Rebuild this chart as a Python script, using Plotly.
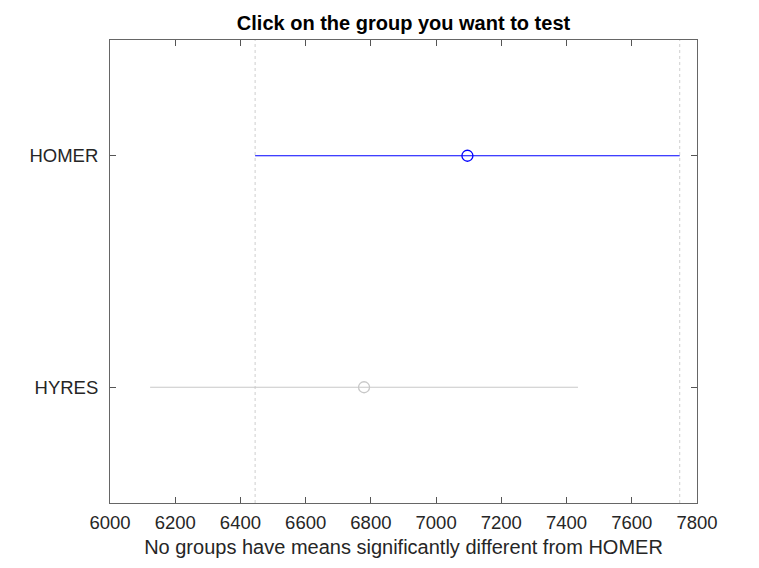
import plotly.graph_objects as go

groups = ["HYRES", "HOMER"]
group_pos = [1, 2]
means = [6779, 7096]
half_widths = [656, 651]
colors = ["#c8c8c8", "#0000ff"]
x_ticks = [6000, 6200, 6400, 6600, 6800, 7000, 7200, 7400, 7600, 7800]
selected = 1  # HOMER

FONT = "Liberation Sans, Arial, Helvetica"

fig = go.Figure()

lo = means[selected] - half_widths[selected]
hi = means[selected] + half_widths[selected]
for xv in (lo, hi):
    fig.add_shape(type="line", x0=xv, x1=xv, y0=0, y1=1, xref="x", yref="paper",
                  line=dict(color="#cfcfcf", width=1, dash="dot"), layer="below")

for g, p, m, h, c in zip(groups, group_pos, means, half_widths, colors):
    fig.add_trace(go.Scatter(
        x=[m - h, m + h], y=[p, p], mode="lines",
        line=dict(color=c, width=1.2), showlegend=False, hoverinfo="skip"))
    fig.add_trace(go.Scatter(
        x=[m], y=[p], mode="markers",
        marker=dict(symbol="circle-open", size=11, color=c, line=dict(width=1.3, color=c)),
        showlegend=False, name=g))

axis_common = dict(showline=True, linecolor="#666666", linewidth=1, mirror="ticks",
                   ticks="inside", ticklen=6, tickcolor="#555555", showgrid=False,
                   zeroline=False, tickfont=dict(family=FONT, size=18.5, color="#262626"))

fig.update_xaxes(range=[6000, 7800], tickvals=x_ticks, ticktext=[str(t) for t in x_ticks],
                 ticklabelstandoff=3,
                 title=dict(text="No groups have means significantly different from HOMER",
                            font=dict(family=FONT, size=20, color="#262626"), standoff=7),
                 **axis_common)
fig.update_yaxes(range=[0.5, 2.5], tickvals=group_pos, ticktext=groups,
                 ticklabelstandoff=7, **axis_common)

fig.update_layout(
    width=759, height=568,
    margin=dict(l=102, r=70, t=32, b=73),
    plot_bgcolor="white", paper_bgcolor="white",
    title=dict(text="<b>Click on the group you want to test</b>", x=0.5, xanchor="center",
               xref="paper", y=0.974, yanchor="middle",
               font=dict(family=FONT, size=20, color="#000000")),
)

fig.write_html("out.html")
